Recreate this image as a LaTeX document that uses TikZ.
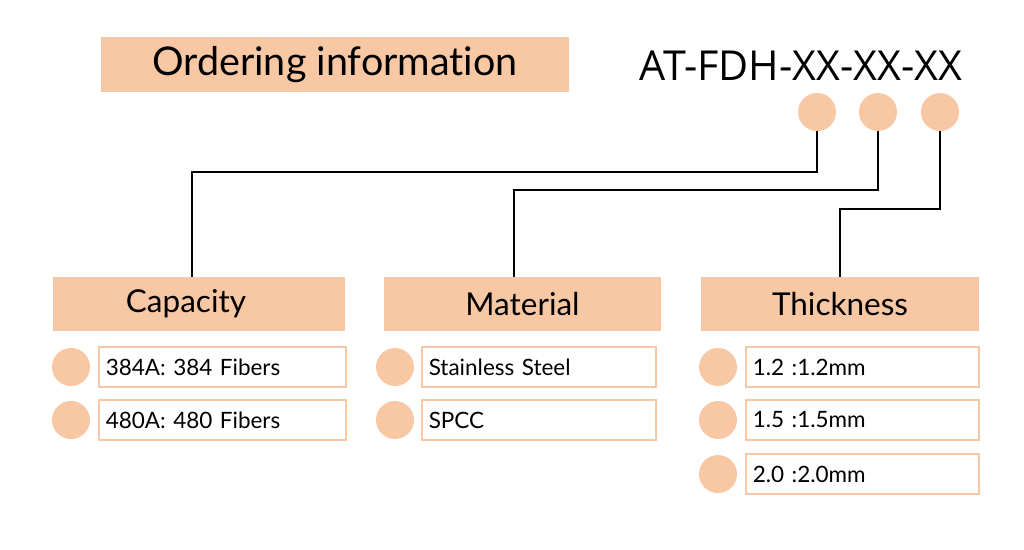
\documentclass[tikz,border=0pt]{standalone}
\usepackage{fontspec}
\setmainfont[Ligatures=NoCommon]{Lato}
\newfontfamily\codefont{Open Sans}
\definecolor{peach}{HTML}{F8C7A4}
\tikzset{
  hdr/.style={fill=peach, minimum height=54pt, inner sep=0pt, font=\fontsize{31.5}{36}\selectfont},
  dot/.style={circle, fill=peach, minimum size=38pt, inner sep=0pt},
  item/.style={draw=peach, line width=1.5pt, fill=white, minimum height=40pt, anchor=west,
    inner xsep=7pt, inner ysep=0pt, align=left, font=\fontsize{22.5}{26}\selectfont},
  wire/.style={draw=black, line width=1.5pt}
}
\begin{document}
\begin{tikzpicture}[x=1pt, y=-1pt]
        \useasboundingbox[fill=white] (0,0) rectangle (1024,549);
        % title and code
        \node[hdr, minimum width=468pt, minimum height=55pt, font=\fontsize{39.5}{44}\selectfont] (title) at (335,64.5) {Ordering information};
        \node[anchor=base, inner sep=0pt, font=\codefont\fontsize{41.3}{46}\selectfont] (code) at (801,80) {AT-FDH-XX-XX-XX};
        \node[dot] (c1) at (817,112) {};
        \node[dot] (c2) at (878,112) {};
        \node[dot] (c3) at (940,112) {};
        % headers
        \node[hdr, minimum width=292pt] (cap) at (199,304) {\hspace*{-26pt}Capacity};
        \node[hdr, minimum width=277pt] (mat) at (522.5,304) {Material};
        \node[hdr, minimum width=278pt] (thk) at (840,304) {Thickness};
        % capacity items
        \node[dot] (cap1d) at (71,367) {};
        \node[dot] (cap2d) at (71,420) {};
        \node[item, text width=233pt] (cap1) at (98,367) {384A: 384 Fibers};
        \node[item, text width=233pt] (cap2) at (98,420) {480A: 480 Fibers};
        % material items
        \node[dot] (mat1d) at (395,367) {};
        \node[dot] (mat2d) at (395,420) {};
        \node[item, text width=220pt] (mat1) at (421,367) {Stainless Steel};
        \node[item, text width=220pt] (mat2) at (421,420) {SPCC};
        % thickness items
        \node[dot] (thk1d) at (718,367) {};
        \node[dot] (thk2d) at (718,420) {};
        \node[dot] (thk3d) at (718,474) {};
        \node[item, text width=219pt] (thk1) at (745,367) {1.2 :1.2mm};
        \node[item, text width=219pt] (thk2) at (745,420) {1.5 :1.5mm};
        \node[item, text width=219pt] (thk3) at (745,474) {2.0 :2.0mm};
        % connectors
        \draw[wire] (c1.south) -- ++(0,41) -| ([xshift=-7pt]cap.north);
        \draw[wire] (c2.south) -- ++(0,59) -| ([xshift=-8.5pt]mat.north);
        \draw[wire] (c3.south) -- ++(0,78) -| (thk.north);
\end{tikzpicture}
\end{document}
